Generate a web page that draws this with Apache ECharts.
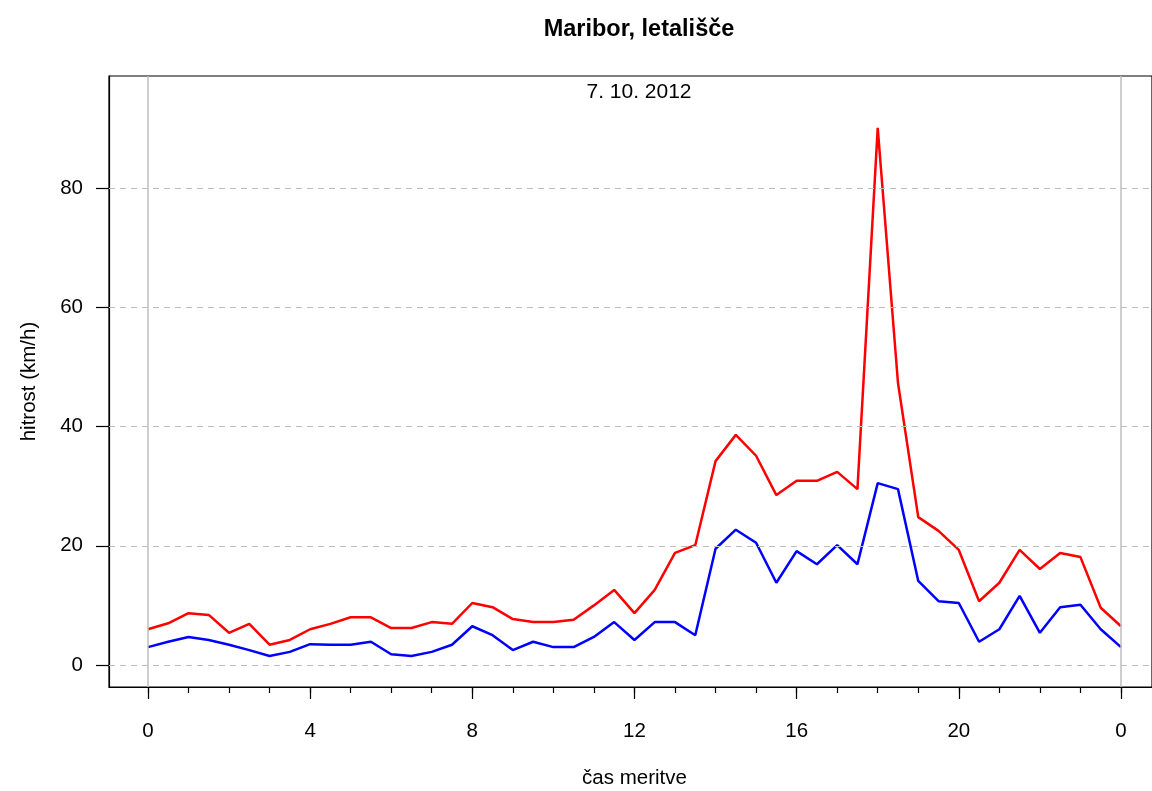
<!DOCTYPE html>
<html>
<head>
<meta charset="utf-8">
<script src="https://cdn.jsdelivr.net/npm/echarts@6/dist/echarts.min.js"></script>
<style>
  html, body { margin: 0; padding: 0; background: #fff; }
  #chart { width: 1152px; height: 791px; }
</style>
</head>
<body>
<div id="chart"></div>
<script>
// Half-hourly measurement times (hours of the day)
const hours = [0, 0.5, 1, 1.5, 2, 2.5, 3, 3.5, 4, 4.5, 5, 5.5, 6, 6.5, 7, 7.5,
  8, 8.5, 9, 9.5, 10, 10.5, 11, 11.5, 12, 12.5, 13, 13.5, 14, 14.5, 15, 15.5,
  16, 16.5, 17, 17.5, 18, 18.5, 19, 19.5, 20, 20.5, 21, 21.5, 22, 22.5, 23, 23.5, 24];

// Wind gusts (km/h)
const gusts = [6.0, 7.0, 8.7, 8.4, 5.4, 6.9, 3.4, 4.2, 6.0, 6.9, 8.0, 8.0, 6.2, 6.2, 7.2, 6.9,
  10.4, 9.7, 7.7, 7.2, 7.2, 7.6, 10.0, 12.6, 8.7, 12.6, 18.8, 20.1, 34.2, 38.6, 35.1, 28.5,
  30.9, 30.9, 32.4, 29.5, 90.1, 47.3, 24.8, 22.5, 19.3, 10.7, 13.8, 19.3, 16.1, 18.8, 18.1, 9.6, 6.5];

// Mean wind speed (km/h)
const speeds = [3.0, 3.9, 4.7, 4.2, 3.4, 2.5, 1.5, 2.2, 3.5, 3.4, 3.4, 3.9, 1.8, 1.5, 2.2, 3.4,
  6.5, 5.0, 2.5, 3.9, 3.0, 3.0, 4.7, 7.2, 4.2, 7.2, 7.2, 5.0, 19.5, 22.7, 20.5, 13.8,
  19.1, 16.9, 20.1, 16.9, 30.5, 29.5, 14.1, 10.7, 10.4, 3.9, 6.0, 11.6, 5.4, 9.7, 10.1, 6.0, 3.0];

// Axis ticks
const yTicks = [0, 20, 40, 60, 80];
const xMajorTicks = [0, 4, 8, 12, 16, 20, 24];
const xMinorTicks = [0, 1, 2, 3, 4, 5, 6, 7, 8, 9, 10, 11, 12, 13, 14, 15, 16, 17, 18, 19, 20, 21, 22, 23, 24];
const dayBounds = [0, 24];

const titleText = 'Maribor, letališče';
const dateText = '7. 10. 2012';

const FONT = '"Liberation Sans", Arial, Helvetica, sans-serif';
// plotting region runs slightly past the right edge of the canvas
const X_MIN = -0.96, X_MAX = 24.765;
const Y_MIN = -3.69, Y_MAX = 98.8;

const chart = echarts.init(document.getElementById('chart'), null, { renderer: 'canvas' });

const pairs = arr => hours.map((h, i) => [h, arr[i]]);

chart.setOption({
  backgroundColor: '#ffffff',
  animation: false,
  title: [
    {
      text: titleText, left: 634, top: 13, textAlign: 'center',
      textStyle: { fontFamily: FONT, fontSize: 23.5, fontWeight: 'bold', color: '#000' }
    },
    {
      text: dateText, left: 634, top: 77, textAlign: 'center',
      textStyle: { fontFamily: FONT, fontSize: 21, fontWeight: 'normal', color: '#000' }
    }
  ],
  grid: {
    left: 109, top: 76, right: 0, bottom: 104,
    outerBoundsMode: 'none', containLabel: false,
    show: true, borderColor: '#000', borderWidth: 1.2, backgroundColor: 'transparent'
  },
  xAxis: [
    {
      type: 'value', min: X_MIN, max: X_MAX, position: 'bottom',
      name: 'čas meritve', nameLocation: 'middle', nameGap: 81,
      nameTextStyle: { fontFamily: FONT, fontSize: 20.5, color: '#000', padding: [0, 0, 0, 8] },
      axisLine: { show: true, onZero: false, lineStyle: { color: '#000', width: 1.2 } },
      axisTick: { show: true, length: 12, customValues: xMajorTicks, lineStyle: { color: '#000', width: 1.2 } },
      axisLabel: {
        customValues: xMajorTicks, margin: 34,
        fontFamily: FONT, fontSize: 20.5, color: '#000',
        formatter: v => String(v % 24)
      },
      splitLine: { show: false }
    },
    {
      type: 'value', min: X_MIN, max: X_MAX, position: 'bottom',
      axisLine: { show: false, onZero: false },
      axisTick: { show: true, length: 6, customValues: xMinorTicks, lineStyle: { color: '#000', width: 1.2 } },
      axisLabel: { show: false },
      splitLine: { show: false }
    }
  ],
  yAxis: {
    type: 'value', min: Y_MIN, max: Y_MAX,
    name: 'hitrost (km/h)', nameLocation: 'middle', nameGap: 69, nameRotate: 90,
    nameTextStyle: { fontFamily: FONT, fontSize: 20.5, color: '#000' },
    axisLine: { show: true, onZero: false, lineStyle: { color: '#000', width: 1.2 } },
    axisTick: { show: true, length: 13, customValues: yTicks, lineStyle: { color: '#000', width: 1.2 } },
    axisLabel: { customValues: yTicks, margin: 26, fontFamily: FONT, fontSize: 20.5, color: '#000' },
    splitLine: { show: false }
  },
  series: [
    {
      // reference lines: dashed horizontal grid and the day boundaries
      type: 'line', data: [], z: 1, silent: true,
      markLine: {
        silent: true, symbol: 'none', animation: false,
        label: { show: false },
        data: yTicks.map(v => ({ yAxis: v, lineStyle: { color: '#bebebe', type: [6, 5], width: 1.2 } }))
          .concat(dayBounds.map(v => ({ xAxis: v, lineStyle: { color: '#bebebe', type: 'solid', width: 1.5 } })))
      }
    },
    {
      name: 'sunki vetra', type: 'line', data: pairs(gusts), z: 3,
      showSymbol: false, symbol: 'none',
      lineStyle: { color: '#ff0000', width: 2.5 }
    },
    {
      name: 'hitrost vetra', type: 'line', data: pairs(speeds), z: 3,
      showSymbol: false, symbol: 'none',
      lineStyle: { color: '#0000ff', width: 2.5 }
    }
  ]
});
</script>
</body>
</html>
